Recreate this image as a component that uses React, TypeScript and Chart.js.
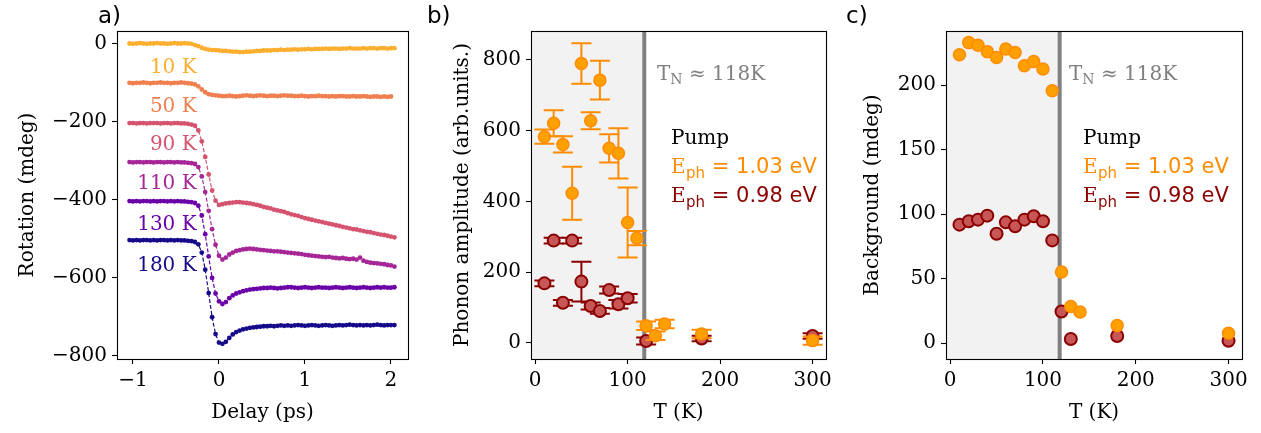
import React, { useEffect, useRef } from "react";
import { Chart, registerables } from "chart.js";
Chart.register(...registerables);

const SERIF = "'DejaVu Serif', serif";
const SANS = "'DejaVu Sans', sans-serif";
const FS = 20;

// ---------------- Panel a: rotation vs delay ----------------
const delays = [
  -1.04, -1.0, -0.96, -0.92, -0.88, -0.84, -0.8, -0.76, -0.72, -0.68, -0.64, -0.6, -0.56, -0.52, -0.48, -0.44, -0.4, -0.36, -0.32,
  -0.28, -0.24, -0.2, -0.16, -0.12, -0.08, -0.04, 0.0,
  0.04, 0.08, 0.12, 0.16, 0.2, 0.24, 0.28, 0.32, 0.36, 0.4,
  0.44, 0.48, 0.52, 0.56, 0.6, 0.64, 0.68, 0.72, 0.76, 0.8,
  0.84, 0.88, 0.92, 0.96, 1.0, 1.04, 1.08, 1.12, 1.16, 1.2,
  1.24, 1.28, 1.32, 1.36, 1.4, 1.44, 1.48, 1.52, 1.56, 1.6,
  1.64, 1.68, 1.72, 1.76, 1.8, 1.84, 1.88, 1.92, 1.96, 2.0,
  2.04,
];
const rot10K = [
  1, 0, 1, 2, 1, 0, 1, 1, 2, 1, 1, 0, 1, 2, 1, 1, 2, 1, 0,
  -3, -6, -10, -13, -15, -16, -16, -17,
  -18, -18, -19, -20, -20, -21, -21, -20, -20, -19,
  -18, -18, -17, -17, -17, -16, -16, -15, -16, -15,
  -15, -14, -15, -14, -14, -13, -14, -13, -13, -13,
  -12, -13, -12, -12, -13, -12, -12, -11, -12, -12,
  -12, -11, -12, -11, -11, -12, -11, -11, -12, -11,
  -11,
];
const rot50K = [
  -100, -101, -100, -100, -99, -100, -101, -100, -100, -99, -100, -100, -101, -100, -100, -99, -100, -101, -102,
  -104, -109, -117, -124, -129, -131, -132, -133,
  -134, -134, -133, -134, -135, -134, -133, -132, -133, -134,
  -133, -132, -133, -134, -133, -133, -134, -133, -132, -133,
  -133, -134, -134, -133, -134, -135, -134, -134, -133, -134,
  -134, -135, -134, -135, -134, -134, -135, -135, -134, -135,
  -135, -134, -135, -136, -135, -135, -136, -135, -136, -135,
  null,
];
const rot90K = [
  -203, -203, -204, -203, -203, -204, -203, -203, -203, -204, -203, -203, -204, -203, -203, -204, -204, -205, -207,
  -210, -222, -250, -290, -335, -376, -402, -413,
  -411, -409, -408, -407, -406, -406, -407, -408, -409, -411,
  -413, -415, -418, -420, -422, -425, -427, -429, -431, -434,
  -437, -439, -441, -444, -447, -449, -451, -453, -455, -457,
  -459, -461, -463, -465, -467, -469, -471, -473, -475, -476,
  -478, -480, -482, -483, -485, -487, -489, -490, -492, -494,
  -496,
];
const rot110K = [
  -303, -304, -303, -303, -304, -303, -303, -304, -303, -303, -304, -303, -303, -304, -303, -304, -304, -305, -306,
  -308, -316, -340, -380, -428, -475, -515, -543,
  -553, -548, -540, -535, -531, -529, -527, -526, -525, -526,
  -527, -528, -529, -530, -531, -532, -532, -533, -534, -535,
  -536, -537, -538, -539, -541, -542, -543, -544, -545, -546,
  -547, -546, -548, -549, -550, -549, -551, -552, -551, -553,
  -548, -556, -559, -561, -562, -563, -564, -565, -567, -568,
  -571,
];
const rot130K = [
  -403, -404, -403, -404, -403, -403, -404, -403, -404, -403, -403, -404, -403, -404, -403, -404, -404, -405, -406,
  -408, -415, -440, -488, -545, -600, -640, -660,
  -667, -662, -652, -645, -640, -637, -634, -632, -630, -629,
  -628, -627, -626, -626, -625, -626, -627, -626, -625, -624,
  -624, -625, -626, -625, -624, -625, -626, -625, -624, -625,
  -625, -626, -625, -624, -625, -626, -625, -624, -625, -626,
  -625, -624, -625, -626, -625, -624, -625, -624, -625, -625,
  -624,
];
const rot180K = [
  -503, -504, -503, -504, -503, -503, -504, -503, -504, -503, -503, -504, -503, -504, -503, -504, -504, -505, -506,
  -508, -514, -535, -579, -639, -701, -744, -766,
  -769, -764, -754, -745, -739, -735, -732, -730, -728, -727,
  -726, -725, -724, -724, -723, -724, -723, -722, -723, -722,
  -723, -722, -721, -722, -723, -722, -721, -722, -723, -722,
  -721, -722, -723, -722, -721, -722, -721, -720, -721, -722,
  -721, -722, -721, -722, -721, -720, -721, -722, -721, -721,
  -721,
];
const curveSeries = [rot10K, rot50K, rot90K, rot110K, rot130K, rot180K];
const curveLabels = ["10 K", "50 K", "90 K", "110 K", "130 K", "180 K"];
const curveColors = ["#fcae2f", "#f07f4f", "#d5536f", "#a62698", "#6a02a8", "#150a8a"];
const curveLabelX = -0.26;
const curveLabelY = [-74, -174, -272, -373, -476, -583];
const xTicksA = [-1, 0, 1, 2];
const yTicksA = [0, -200, -400, -600, -800];

// ---------------- Panel b: phonon amplitude ----------------
const tempHi = [10, 20, 30, 40, 50, 60, 70, 80, 90, 100, 110, 120, 130, 140, 180, 300];
const ampHi = [583, 621, 561, 423, 790, 628, 743, 550, 536, 340, 296, 48, 20, 53, 25, 6];
const ampHiErr = [20, 37, 23, 75, 57, 24, 55, 40, 71, 99, 20, 12, 12, 12, 12, 12];
const tempLo = [10, 20, 30, 40, 50, 60, 70, 80, 90, 100, 120, 180, 300];
const ampLo = [168, 289, 113, 289, 173, 104, 90, 149, 109, 126, 5, 12, 19];
const ampLoErr = [8, 8, 8, 8, 56, 10, 8, 10, 12, 12, 10, 8, 8];

// ---------------- Panel c: background ----------------
const tempBgHi = [10, 20, 30, 40, 50, 60, 70, 80, 90, 100, 110, 120, 130, 140, 180, 300];
const bgHi = [223.6, 233, 231, 226, 221.5, 228, 225.4, 215, 218.4, 212.5, 195.6, 55, 28.3, 24, 13.5, 7.5];
const tempBgLo = [10, 20, 30, 40, 50, 60, 70, 80, 90, 100, 110, 120, 130, 180, 300];
const bgLo = [91.8, 94.4, 95.7, 98.8, 84.8, 93.6, 90.5, 95.7, 98.3, 94.4, 79.6, 24.4, 3.1, 5.4, 1.8];

const xTicksT = [0, 100, 200, 300];
const yTicksB = [0, 200, 400, 600, 800];
const yTicksC = [0, 50, 100, 150, 200];
const T_NEEL = 118;

const ORANGE = "#ff8c00";
const ORANGE_FACE = "#ffa000";
const DARKRED = "#8b0000";
const RED_FACE = "#c75757";

const fmt = (v: number) => (v < 0 ? "\u2212" + Math.abs(v) : String(v));
const pairs = (xs: number[], ys: (number | null)[]) => xs.map((x, i) => ({ x, y: ys[i] }));

function makeScale(min: number, max: number, ticks: number[], title: string, isY: boolean, size: number, titlePad: number) {
  return {
    type: "linear",
    position: isY ? "left" : "bottom",
    min,
    max,
    afterBuildTicks: (s: any) => {
      s.ticks = ticks.map((v) => ({ value: v }));
    },
    afterFit: (s: any) => {
      if (isY) s.width = size;
      else s.height = size;
    },
    grid: { display: true, drawOnChartArea: false, drawTicks: true, tickLength: 5, tickWidth: 1.1, tickColor: "#000", color: "#000" },
    border: { display: false },
    ticks: { color: "#000", font: { family: SERIF, size: FS }, padding: 5, maxRotation: 0, autoSkip: false, callback: (v: any) => fmt(Number(v)) },
    title: {
      display: true,
      text: title,
      color: "#000",
      font: { family: SERIF, size: FS },
      padding: isY ? { top: titlePad, bottom: 0 } : { top: 0, bottom: titlePad },
    },
  };
}

const framePlugin = {
  id: "frame",
  afterDatasetsDraw(chart: any) {
    const { ctx, chartArea: a } = chart;
    ctx.save();
    ctx.strokeStyle = "#000";
    ctx.lineWidth = 1.1;
    ctx.strokeRect(Math.round(a.left) + 0.5, Math.round(a.top) + 0.5, Math.round(a.right - a.left), Math.round(a.bottom - a.top));
    ctx.restore();
  },
};

const neelPlugin = {
  id: "neel",
  beforeDatasetsDraw(chart: any) {
    const { ctx, chartArea: a, scales } = chart;
    const px = scales.x.getPixelForValue(T_NEEL);
    ctx.save();
    ctx.fillStyle = "#f2f2f2";
    ctx.fillRect(a.left, a.top, px - a.left, a.bottom - a.top);
    ctx.strokeStyle = "#808080";
    ctx.lineWidth = 4;
    ctx.beginPath();
    ctx.moveTo(px, a.top);
    ctx.lineTo(px, a.bottom);
    ctx.stroke();
    ctx.restore();
  },
};

const errorBarPlugin = {
  id: "errbars",
  beforeDatasetDraw(chart: any, args: any) {
    const ds = chart.data.datasets[args.index];
    if (!ds.errors) return;
    const { ctx, scales } = chart;
    ctx.save();
    ctx.strokeStyle = ds.errColor;
    ctx.lineWidth = 2;
    ds.data.forEach((p: any, i: number) => {
      const e = ds.errors[i];
      const px = scales.x.getPixelForValue(p.x);
      const y1 = scales.y.getPixelForValue(p.y - e);
      const y2 = scales.y.getPixelForValue(p.y + e);
      ctx.beginPath();
      ctx.moveTo(px, y1);
      ctx.lineTo(px, y2);
      ctx.moveTo(px - 10, y1);
      ctx.lineTo(px + 10, y1);
      ctx.moveTo(px - 10, y2);
      ctx.lineTo(px + 10, y2);
      ctx.stroke();
    });
    ctx.restore();
  },
};

function drawEph(ctx: any, x: number, y: number, rest: string, color: string) {
  ctx.fillStyle = color;
  ctx.font = `${FS}px ${SERIF}`;
  ctx.fillText("E", x, y);
  x += ctx.measureText("E").width + 0.5;
  ctx.font = `15px ${SANS}`;
  ctx.fillText("ph", x, y + 5);
  x += ctx.measureText("ph").width;
  ctx.font = `21px ${SANS}`;
  ctx.fillText(" " + rest, x, y);
}

function panelTextPlugin(tnOffset: number, legendOffset: number) {
  return {
    id: "panelText",
    afterDatasetsDraw(chart: any) {
      const { ctx, chartArea: a } = chart;
      ctx.save();
      ctx.textAlign = "left";
      ctx.textBaseline = "alphabetic";
      let x = a.left + tnOffset;
      const y = a.top + 49;
      ctx.fillStyle = "#808080";
      ctx.font = `${FS}px ${SERIF}`;
      ctx.fillText("T", x, y);
      x += ctx.measureText("T").width;
      ctx.font = `${Math.round(FS * 0.7)}px ${SERIF}`;
      ctx.fillText("N", x, y + 4);
      x += ctx.measureText("N").width;
      ctx.font = `${FS}px ${SERIF}`;
      ctx.fillText(" \u2248 " + T_NEEL + "K", x, y);
      const lx = a.left + legendOffset;
      ctx.fillStyle = "#000";
      ctx.fillText("Pump", lx, a.top + 113);
      drawEph(ctx, lx, a.top + 142, "= 1.03 eV", ORANGE);
      drawEph(ctx, lx, a.top + 171, "= 0.98 eV", DARKRED);
      ctx.restore();
    },
  };
}

const curveLabelPlugin = {
  id: "curveLabels",
  afterDatasetsDraw(chart: any) {
    const { ctx, scales } = chart;
    ctx.save();
    ctx.font = `${FS}px ${SERIF}`;
    ctx.textAlign = "right";
    ctx.textBaseline = "alphabetic";
    curveLabels.forEach((t, i) => {
      ctx.fillStyle = curveColors[i];
      ctx.fillText(t, scales.x.getPixelForValue(curveLabelX), scales.y.getPixelForValue(curveLabelY[i]));
    });
    ctx.restore();
  },
};

const baseOptions = (padRight: number) => ({
  animation: false,
  responsive: false,
  devicePixelRatio: 1,
  events: [],
  layout: { padding: { top: 31, right: padRight, left: 0, bottom: 0 } },
  plugins: { legend: { display: false }, tooltip: { enabled: false } },
});

function scatterSet(xs: number[], ys: number[], face: string, edge: string, edgeW: number, errs?: number[], errColor?: string) {
  return {
    data: pairs(xs, ys),
    showLine: false,
    pointRadius: 6,
    pointBackgroundColor: face,
    pointBorderColor: edge,
    pointBorderWidth: edgeW,
    errors: errs,
    errColor,
  };
}

export default function App() {
  const refA = useRef<HTMLCanvasElement>(null);
  const refB = useRef<HTMLCanvasElement>(null);
  const refC = useRef<HTMLCanvasElement>(null);

  useEffect(() => {
    const charts: Chart[] = [];

    charts.push(
      new Chart(refA.current as HTMLCanvasElement, {
        type: "scatter",
        data: {
          datasets: curveSeries.map((ys, i) => ({
            data: pairs(delays, ys),
            showLine: true,
            borderColor: curveColors[i],
            borderWidth: 1.2,
            borderDash: [4, 2],
            pointRadius: 2.4,
            pointBorderWidth: 0,
            pointBackgroundColor: curveColors[i],
            spanGaps: false,
          })),
        } as any,
        options: {
          ...baseOptions(12),
          scales: {
            x: makeScale(-1.186, 2.198, xTicksA, "Delay (ps)", false, 74, 8),
            y: makeScale(-808, 33, yTicksA, "Rotation (mdeg)", true, 117, 16),
          },
        } as any,
        plugins: [framePlugin, curveLabelPlugin] as any,
      })
    );

    charts.push(
      new Chart(refB.current as HTMLCanvasElement, {
        type: "scatter",
        data: {
          datasets: [
            scatterSet(tempHi, ampHi, ORANGE_FACE, ORANGE, 1.5, ampHiErr, ORANGE),
            scatterSet(tempLo, ampLo, RED_FACE, DARKRED, 2, ampLoErr, DARKRED),
          ],
        } as any,
        options: {
          ...baseOptions(14),
          scales: {
            x: makeScale(-4.5, 314.5, xTicksT, "T (K)", false, 74, 8),
            y: makeScale(-46, 882, yTicksB, "Phonon amplitude (arb.units.)", true, 111, 31),
          },
        } as any,
        plugins: [neelPlugin, errorBarPlugin, framePlugin, panelTextPlugin(126, 140)] as any,
      })
    );

    charts.push(
      new Chart(refC.current as HTMLCanvasElement, {
        type: "scatter",
        data: {
          datasets: [
            scatterSet(tempBgHi, bgHi, ORANGE_FACE, ORANGE, 1.5),
            scatterSet(tempBgLo, bgLo, RED_FACE, DARKRED, 2),
          ],
        } as any,
        options: {
          ...baseOptions(19),
          scales: {
            x: makeScale(-4.5, 314.5, xTicksT, "T (K)", false, 74, 8),
            y: makeScale(-12.4, 242, yTicksC, "Background (mdeg)", true, 106, 21),
          },
        } as any,
        plugins: [neelPlugin, framePlugin, panelTextPlugin(123, 137)] as any,
      })
    );

    return () => charts.forEach((c) => c.destroy());
  }, []);

  const letter = (left: number): React.CSSProperties => ({
    position: "absolute",
    left,
    top: 4,
    fontFamily: SANS,
    fontSize: 23,
    lineHeight: "23px",
    color: "#000",
  });

  return (
    <div style={{ position: "absolute", left: 0, top: 0, width: 1261, height: 433, background: "#fff", overflow: "hidden" }}>
      <canvas ref={refA} width={420} height={433} style={{ position: "absolute", left: 0, top: 0 }} />
      <canvas ref={refB} width={420} height={433} style={{ position: "absolute", left: 420, top: 0 }} />
      <canvas ref={refC} width={421} height={433} style={{ position: "absolute", left: 840, top: 0 }} />
      <div style={letter(98)}>a)</div>
      <div style={letter(427)}>b)</div>
      <div style={letter(846)}>c)</div>
    </div>
  );
}
